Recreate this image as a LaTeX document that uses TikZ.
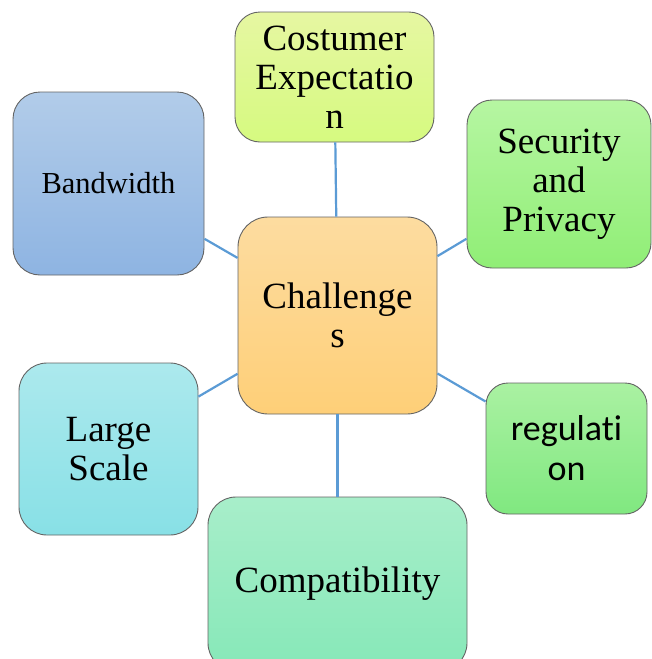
\documentclass[tikz,border=0pt]{standalone}
\usepackage{fontspec}
\setmainfont{Liberation Serif}
\newfontfamily\calib{Carlito}
\begin{document}
\begin{tikzpicture}[x=1pt,y=-1pt,
  topic/.style={draw={rgb,255:red,100;green,100;blue,100}, line width=0.9pt,
    rounded corners=#1, inner sep=0pt, align=center, text=black,
    font=\fontsize{37}{39}\selectfont},
  topic/.default=26pt,
  conn/.style={draw={rgb,255:red,91;green,155;blue,213}, line width=2.2pt}]
\useasboundingbox (0,0) rectangle (652,659);

% central topic
\node[topic=30pt, minimum width=199pt, minimum height=197pt,
  top color={rgb,255:red,253;green,220;blue,160},
  bottom color={rgb,255:red,254;green,207;blue,120}]
  (ch) at (337.5,315.5) {Challenge\\s};

% surrounding topics
\node[topic=25pt, minimum width=199pt, minimum height=130pt,
  top color={rgb,255:red,230;green,247;blue,162},
  bottom color={rgb,255:red,214;green,250;blue,128}]
  (ce) at (334.5,77) {Costumer\\Expectatio\\n};

\node[topic=27pt, minimum width=191pt, minimum height=183pt,
  top color={rgb,255:red,178;green,204;blue,233},
  bottom color={rgb,255:red,142;green,180;blue,226},
  font=\fontsize{30.5}{34}\selectfont]
  (bw) at (108.5,183.5) {Bandwidth};

\node[topic=25pt, minimum width=184pt, minimum height=168pt,
  top color={rgb,255:red,182;green,246;blue,162},
  bottom color={rgb,255:red,144;green,238;blue,118}]
  (sp) at (559,184) {Security\\and\\Privacy};

\node[topic=22pt, minimum width=161pt, minimum height=131pt,
  top color={rgb,255:red,170;green,241;blue,162},
  bottom color={rgb,255:red,128;green,232;blue,128},
  font=\calib\fontsize{36}{40}\selectfont]
  (rg) at (566.5,448.5) {regulat\kern0pt i\\on};

\node[topic=28pt, minimum width=179pt, minimum height=172pt,
  top color={rgb,255:red,172;green,233;blue,237},
  bottom color={rgb,255:red,136;green,224;blue,230}]
  (ls) at (108.5,449) {Large\\Scale};

\node[topic=28pt, minimum width=259pt, minimum height=174pt,
  top color={rgb,255:red,168;green,238;blue,202},
  bottom color={rgb,255:red,134;green,232;blue,184}]
  (cp) at (337.5,584) {Compatibility};

% connectors from the centre to each topic
\draw[conn] (ch) -- (ce);
\draw[conn] (ch) -- (bw);
\draw[conn] (ch) -- (sp);
\draw[conn] (ch) -- (rg);
\draw[conn] (ch) -- (ls);
\draw[conn] (ch) -- (cp);
\end{tikzpicture}
\end{document}
